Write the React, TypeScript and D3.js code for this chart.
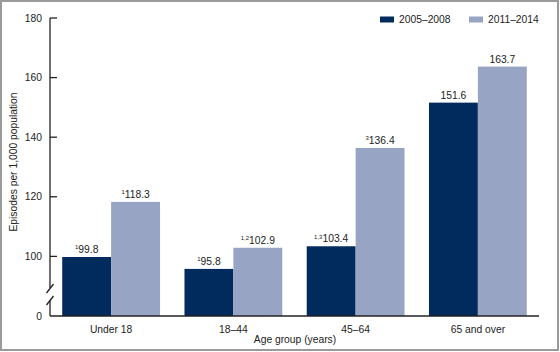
import React from 'react';
import * as d3 from 'd3';

const categories = ['Under 18', '18–44', '45–64', '65 and over'];
const seriesNames = ['2005–2008', '2011–2014'];
const values2005 = [99.8, 95.8, 103.4, 151.6];
const values2011 = [118.3, 102.9, 136.4, 163.7];
const notes2005 = ['1', '1', '1,3', ''];
const notes2011 = ['1', '1,2', '3', ''];
const yTicks = [100, 120, 140, 160, 180];

const colors = ['#002b5c', '#97a4c4'];
const font = '"Liberation Sans", Arial, sans-serif';

export default function App() {
  const width = 560;
  const height = 352;
  const axisX = 50;
  const baseY = 316;

  // broken axis: "0" sits where 80 would be
  const y = d3.scaleLinear().domain([80, 180]).range([baseY, 18]);
  const x0 = d3.scaleBand<string>()
    .domain(categories)
    .range([axisX, 539])
    .paddingInner(0.2)
    .paddingOuter(0.1);
  const x1 = d3.scaleBand<number>()
    .domain([0, 1])
    .range([0, x0.bandwidth()]);

  const series = [values2005, values2011];
  const notes = [notes2005, notes2011];

  return (
    <svg width={width} height={height}
      style={{ position: 'absolute', left: 0, top: 0, fontFamily: font }}>
      <rect x={1} y={1} width={557} height={349} fill="#fff" stroke="#9a9a9a" strokeWidth={2} />

      {/* bars */}
      {categories.map((c, i) => (
        <g key={c} transform={`translate(${x0(c)},0)`}>
          {series.map((vals, s) => (
            <g key={s}>
              <rect x={x1(s)} y={y(vals[i])} width={x1.bandwidth()}
                height={baseY - y(vals[i])} fill={colors[s]} />
              <text x={x1(s)! + x1.bandwidth() / 2} y={y(vals[i]) - 4}
                textAnchor="middle" fontSize={10.3} fill="#222">
                {notes[s][i] && (
                  <tspan fontSize={6} dy={-3.5}>{notes[s][i]}</tspan>
                )}
                <tspan dy={notes[s][i] ? 3.5 : 0}>{vals[i].toFixed(1)}</tspan>
              </text>
            </g>
          ))}
        </g>
      ))}

      {/* y axis with break */}
      <g stroke="#222" strokeWidth={1.3} fill="none">
        <line x1={axisX} x2={axisX} y1={y(180)} y2={288} />
        <line x1={axisX} x2={axisX} y1={300} y2={baseY} />
        <line x1={46.5} y1={293} x2={53.5} y2={284} />
        <line x1={46.5} y1={305} x2={53.5} y2={296} />
        {yTicks.map(t => (
          <line key={t} x1={axisX} x2={axisX + 7} y1={y(t)} y2={y(t)} />
        ))}
        <line x1={axisX} x2={539} y1={baseY} y2={baseY} strokeWidth={1.5} />
      </g>
      {yTicks.map(t => (
        <text key={t} x={42} y={y(t)} dy="0.35em" textAnchor="end" fontSize={10.3} fill="#222">{t}</text>
      ))}
      <text x={42} y={y(80)} dy="0.35em" textAnchor="end" fontSize={10.3} fill="#222">0</text>

      <text transform={`translate(17,162) rotate(-90)`} textAnchor="middle" fontSize={10.3} fill="#222">
        Episodes per 1,000 population
      </text>

      {/* x axis labels */}
      {categories.map(c => (
        <text key={c} x={x0(c)! + x0.bandwidth() / 2} y={332.5} textAnchor="middle" fontSize={10.3} fill="#222">{c}</text>
      ))}
      <text x={295} y={342.5} textAnchor="middle" fontSize={10.3} fill="#222">Age group (years)</text>

      {/* legend */}
      {seriesNames.map((n, s) => (
        <g key={n} transform={`translate(${380 + s * 89},0)`}>
          <rect x={0} y={16.5} width={14} height={6} fill={colors[s]} />
          <text x={19} y={23} fontSize={10.3} fill="#222">{n}</text>
        </g>
      ))}
    </svg>
  );
}
